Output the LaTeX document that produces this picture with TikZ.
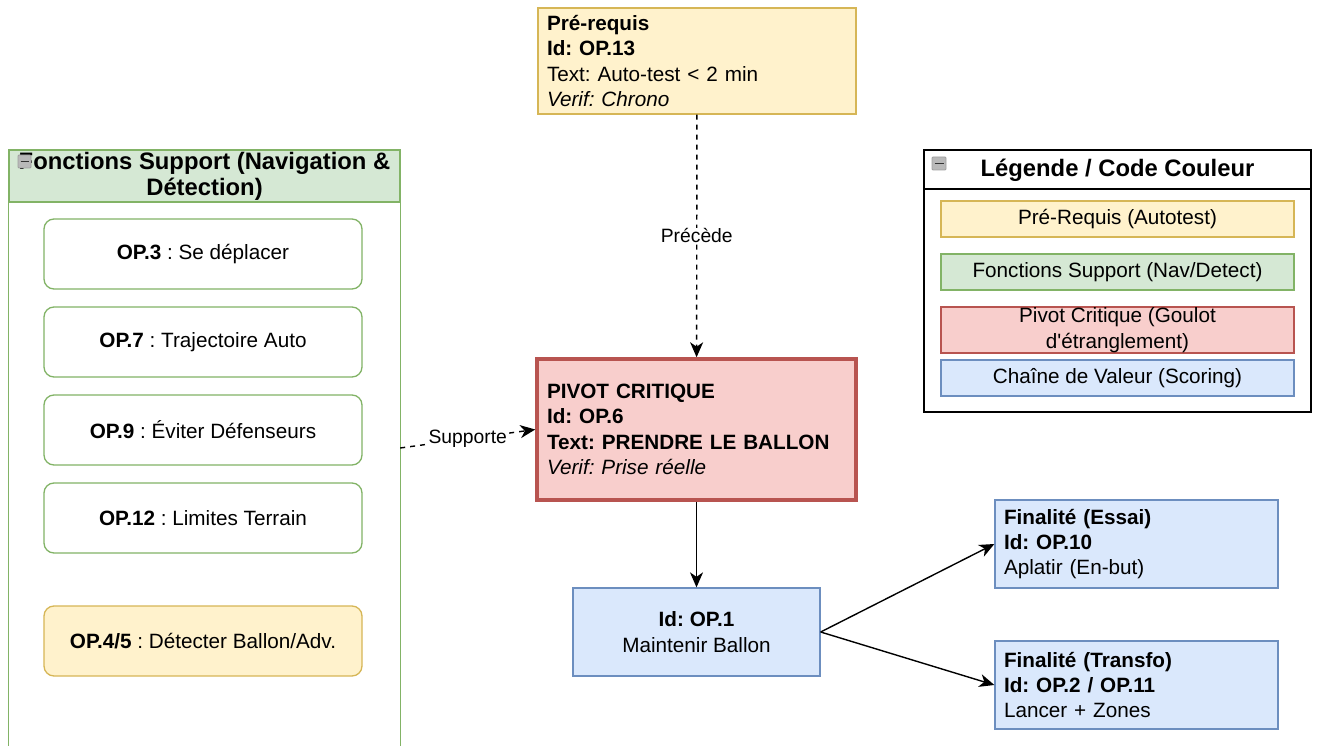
\documentclass[tikz,border=0pt]{standalone}
\usepackage{fontspec}
\setmainfont{Liberation Sans}
% same family without the TeX quote mapping, for a straight apostrophe
\newfontfamily\plainsans{Liberation Sans}
\usetikzlibrary{arrows.meta}

\definecolor{yelfill}{HTML}{FFF2CC}
\definecolor{yelline}{HTML}{D6B656}
\definecolor{grnfill}{HTML}{D5E8D4}
\definecolor{grnline}{HTML}{82B366}
\definecolor{redfill}{HTML}{F8CECC}
\definecolor{redline}{HTML}{B85450}
\definecolor{blufill}{HTML}{DAE8FC}
\definecolor{bluline}{HTML}{6C8EBF}

\begin{document}
\frenchspacing
\begin{tikzpicture}[x=1pt,y=-1pt,
  font=\fontsize{20.7}{25.4}\selectfont,
  box/.style={draw, line width=1.3pt, inner xsep=9pt, inner ysep=0pt, align=center},
  lbox/.style={box, align=left},
  yel/.style={fill=yelfill, draw=yelline},
  grn/.style={fill=grnfill, draw=grnline},
  red/.style={fill=redfill, draw=redline},
  blu/.style={fill=blufill, draw=bluline},
  opbox/.style={box, rounded corners=10pt, minimum width=318pt, minimum height=70pt},
  legitem/.style={box, minimum width=353pt, minimum height=36pt},
  edge/.style={line width=1.4pt, -{Stealth[length=15pt, width=13pt, inset=4.5pt]}},
  dashedge/.style={edge, dash pattern=on 5pt off 5pt},
  elabel/.style={fill=white, inner sep=1pt, font=\fontsize{19.3}{23}\selectfont},
  titlefont/.style={font=\bfseries\fontsize{23.8}{26}\selectfont},
  collapse/.style={fill=gray!55, draw=gray!75, line width=0.8pt, rounded corners=1pt}
]
\useasboundingbox (0,0) rectangle (1319,746);

% Pre-requisite
\node[lbox, yel, minimum width=318pt, minimum height=106pt, text width=300pt] (prereq) at (697,61)
  {\textbf{Pré-requis}\\\textbf{Id: OP.13}\\Text: Auto-test < 2 min\\\textit{Verif: Chrono}};

% Support functions container
\node[fill=white, minimum width=391pt, minimum height=596pt, inner sep=0pt] (support) at (204.5,448) {};
\node[box, grn, minimum width=391pt, minimum height=52pt, inner xsep=0pt, titlefont]
  (supphead) at (204.5,176) {Fonctions Support (Navigation \&\\Détection)};
\draw[grnline, line width=1.3pt] (support.south west) -- (support.north west) -- (support.north east) -- (support.south east);
\draw[collapse] (18,155) rectangle (31,168);
\draw[line width=1.6pt, black!80] (20.5,161.5) -- (28.5,161.5);

\node[opbox, draw=grnline, fill=white] (op3) at (203,254) {\textbf{OP.3} : Se déplacer};
\node[opbox, draw=grnline, fill=white] (op7) at (203,342) {\textbf{OP.7} : Trajectoire Auto};
\node[opbox, draw=grnline, fill=white] (op9) at (203,430) {\textbf{OP.9} : Éviter Défenseurs};
\node[opbox, draw=grnline, fill=white] (op12) at (203,518) {\textbf{OP.12} : Limites Terrain};
\node[opbox, yel] (op45) at (203,641) {\textbf{OP.4/5} : Détecter Ballon/Adv.};

% Critical pivot
\node[lbox, red, line width=3.5pt, inner xsep=10pt, minimum width=319pt, minimum height=141pt, text width=299pt] (pivot) at (696.5,429.5)
  {\textbf{PIVOT CRITIQUE}\\\textbf{Id: OP.6}\\\textbf{Text: PRENDRE LE BALLON}\\\textit{Verif: Prise réelle}};

% Value chain
\node[box, blu, minimum width=247pt, minimum height=88pt] (op1) at (696.5,632)
  {\textbf{Id: OP.1}\\Maintenir Ballon};
\node[lbox, blu, minimum width=283pt, minimum height=88pt, text width=265pt] (essai) at (1136.5,544)
  {\textbf{Finalité (Essai)}\\\textbf{Id: OP.10}\\Aplatir (En-but)};
\node[lbox, blu, minimum width=283pt, minimum height=88pt, text width=265pt] (transfo) at (1136.5,685)
  {\textbf{Finalité (Transfo)}\\\textbf{Id: OP.2 / OP.11}\\Lancer + Zones};

% Legend
\node[draw, fill=white, line width=1.3pt, minimum width=387pt, minimum height=262pt, inner sep=0pt] (legend) at (1117.5,281) {};
\node[titlefont, inner sep=0pt] (legtitle) at (1117.5,170) {Légende / Code Couleur};
\draw[line width=1.3pt] (legend.west |- 0,189) -- (legend.east |- 0,189);
\draw[collapse] (932,157) rectangle (946,170);
\draw[line width=1.6pt, black!80] (934.5,163.5) -- (943.5,163.5);
\node[legitem, yel] (legyel) at (1117.5,219) {Pré-Requis (Autotest)};
\node[legitem, grn] (leggrn) at (1117.5,272) {Fonctions Support (Nav/Detect)};
\node[legitem, red, minimum height=46pt, font=\plainsans\fontsize{20.7}{26}\selectfont] (legred) at (1117.5,330)
  {Pivot Critique (Goulot\\d'étranglement)};
\node[legitem, blu] (legblu) at (1117.5,378) {Chaîne de Valeur (Scoring)};

% Connectors
\draw[dashedge] (prereq) -- node[elabel] {Précède} (pivot);
\draw[dashedge] (support.east) -- node[elabel, pos=0.5] {Supporte} (pivot.west);
\draw[edge] (pivot) -- (op1);
\draw[edge] (op1.east) -- (essai.west);
\draw[edge] (op1.east) -- (transfo.west);
\end{tikzpicture}
\end{document}
